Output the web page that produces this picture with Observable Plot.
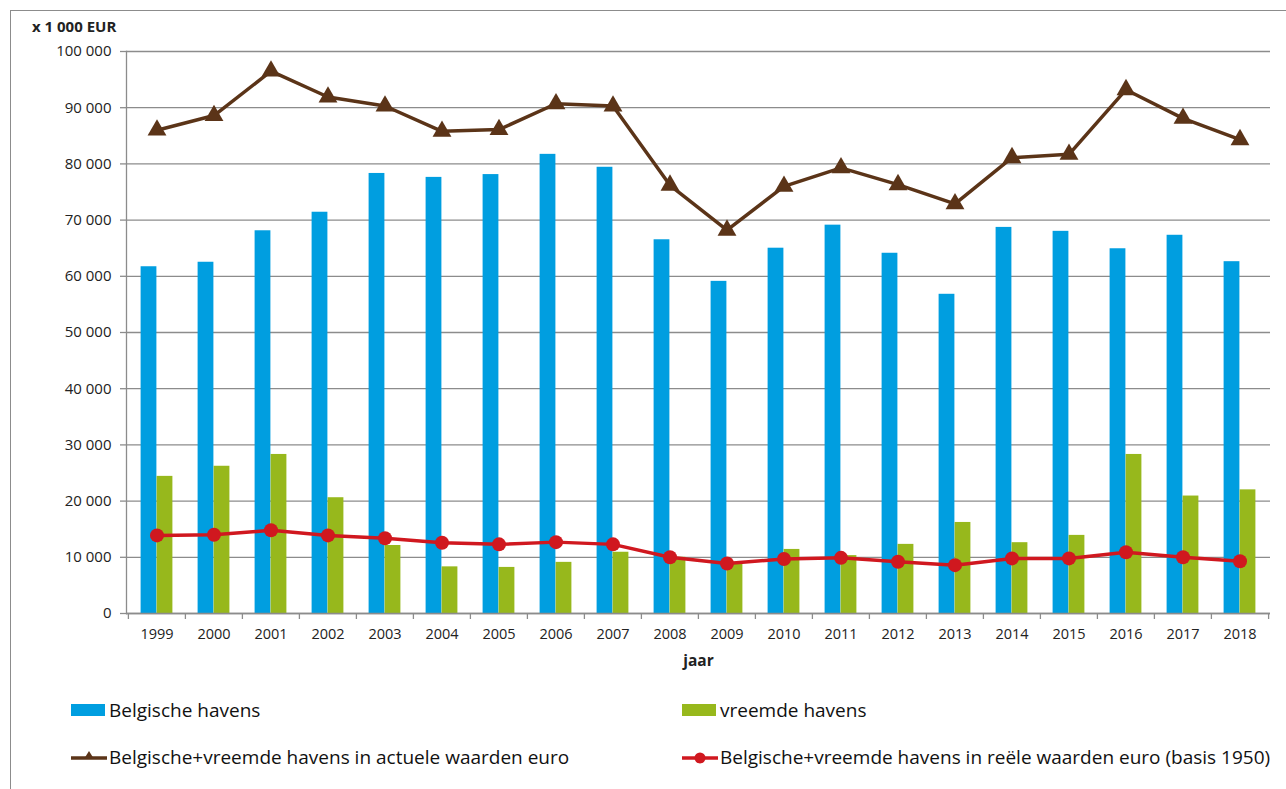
<!DOCTYPE html>
<html>
<head>
<meta charset="utf-8">
<script src="https://cdn.jsdelivr.net/npm/d3@7"></script>
<script src="https://cdn.jsdelivr.net/npm/@observablehq/plot@0.6"></script>
<style>
  html, body { margin: 0; padding: 0; background: #fff; }
  body { width: 1286px; height: 789px; overflow: hidden; position: relative; font-family: "Open Sans", sans-serif; color: #222; }
  #frame { position: absolute; left: 10px; top: 10px; width: 1290px; height: 790px; border: 1px solid #8c8c8c; box-sizing: border-box; }
  #chart { position: absolute; left: 0; top: 0; }
  #unit { position: absolute; left: 32px; top: 16px; font-size: 15px; font-weight: bold; }
  .leg { position: absolute; font-size: 19px; display: flex; align-items: center; white-space: nowrap; color: #111; }
  .leg svg { margin-right: 2px; }
</style>
</head>
<body>
<div id="frame"></div>
<div id="chart"></div>
<div id="unit">x 1 000 EUR</div>
<div id="legend"></div>
<script>
const years = ["1999","2000","2001","2002","2003","2004","2005","2006","2007","2008","2009","2010","2011","2012","2013","2014","2015","2016","2017","2018"];
const belgische = [61700,62500,68100,71400,78300,77600,78100,81700,79400,66500,59100,65000,69100,64100,56800,68700,68000,64900,67300,62600];
const vreemde = [24400,26200,28300,20600,12100,8300,8200,9100,10900,10000,9100,11400,10300,12300,16200,12600,13900,28300,20900,22000];
const actueel = [86000,88600,96500,91900,90300,85800,86100,90700,90300,76200,68200,76000,79300,76300,72900,81100,81700,93200,88100,84300];
const reeel = [13900,14000,14800,13900,13400,12600,12300,12700,12300,10000,8900,9700,9900,9200,8600,9800,9800,10900,10000,9300];
const yTicks = [0,10000,20000,30000,40000,50000,60000,70000,80000,90000,100000];
const seriesNames = ["Belgische havens","vreemde havens","Belgische+vreemde havens in actuele waarden euro","Belgische+vreemde havens in reële waarden euro (basis 1950)"];
const colors = ["#009ee0","#97b81c","#5b3418","#d0181f"];
const xTitle = "jaar";

const rows = years.map((y, i) => ({year: y, belg: belgische[i], vreemd: vreemde[i], act: actueel[i], reel: reeel[i]}));
const fmt = d => d3.format(",")(d).replace(/,/g, "\u00a0");

const width = 1286, height = 680;
const mL = 126, mR = 16;
const step = (width - mL - mR) / years.length;
const half = step / 2;
const barW = 16;

const chart = Plot.plot({
  width, height,
  marginLeft: mL, marginRight: mR, marginTop: 51, marginBottom: height - 613,
  style: {fontFamily: "Open Sans, sans-serif", fontSize: "14.5px", color: "#222", background: "transparent"},
  x: {type: "band", domain: years, padding: 0, label: null},
  y: {domain: [0, 100000], label: null},
  marks: [
    Plot.gridY(yTicks, {stroke: "#8c8c8c", strokeOpacity: 1, strokeWidth: 1.3}),
    Plot.axisY(yTicks, {tickFormat: fmt, tickSize: 6, tickPadding: 9, fontSize: 15, stroke: "#8c8c8c", strokeWidth: 1.3, label: null}),
    Plot.barY(rows, {x: "year", y: "belg", fill: colors[0], insetLeft: half - barW, insetRight: half}),
    Plot.barY(rows, {x: "year", y: "vreemd", fill: colors[1], insetLeft: half, insetRight: half - barW}),
    Plot.frame({anchor: "left", stroke: "#8c8c8c", strokeWidth: 1.3}),
    Plot.ruleY([0], {stroke: "#8c8c8c", strokeWidth: 1.5}),
    Plot.axisX({tickSize: 6, tickFormat: () => "", dx: -half, stroke: "#8c8c8c", strokeWidth: 1.3, label: null}),
    Plot.axisX([years[years.length - 1]], {tickSize: 6, tickFormat: () => "", dx: half, stroke: "#8c8c8c", strokeWidth: 1.3, label: null}),
    Plot.axisX({tickSize: 0, tickPadding: 15, label: null}),
    Plot.text([xTitle], {frameAnchor: "bottom", dy: 52, fontWeight: "bold", fontSize: 15.5}),
    Plot.line(rows, {x: "year", y: "act", stroke: colors[2], strokeWidth: 3.5}),
    Plot.dot(rows, {x: "year", y: "act", symbol: "triangle", r: 7, fill: colors[2]}),
    Plot.line(rows, {x: "year", y: "reel", stroke: colors[3], strokeWidth: 3.5}),
    Plot.dot(rows, {x: "year", y: "reel", symbol: "circle", r: 7, fill: colors[3]})
  ]
});
document.getElementById("chart").appendChild(chart);

// legend
const legend = document.getElementById("legend");
const legPos = [[71, 697], [682, 697], [71, 744], [682, 744]];
seriesNames.forEach((name, i) => {
  const div = document.createElement("div");
  div.className = "leg";
  div.style.left = legPos[i][0] + "px";
  div.style.top = legPos[i][1] + "px";
  let sw;
  if (i < 2) {
    sw = `<svg width="36" height="26"><rect x="0" y="7" width="34" height="12" fill="${colors[i]}"/></svg>`;
  } else if (i === 2) {
    sw = `<svg width="36" height="26"><line x1="0" y1="14" x2="36" y2="14" stroke="${colors[i]}" stroke-width="3.5"/><path d="M18,7 L23,15 L13,15 Z" fill="${colors[i]}"/></svg>`;
  } else {
    sw = `<svg width="36" height="26"><line x1="0" y1="14" x2="36" y2="14" stroke="${colors[i]}" stroke-width="3.5"/><circle cx="18" cy="14" r="5.5" fill="${colors[i]}"/></svg>`;
  }
  div.innerHTML = sw + `<span>${name}</span>`;
  legend.appendChild(div);
});
</script>
</body>
</html>
